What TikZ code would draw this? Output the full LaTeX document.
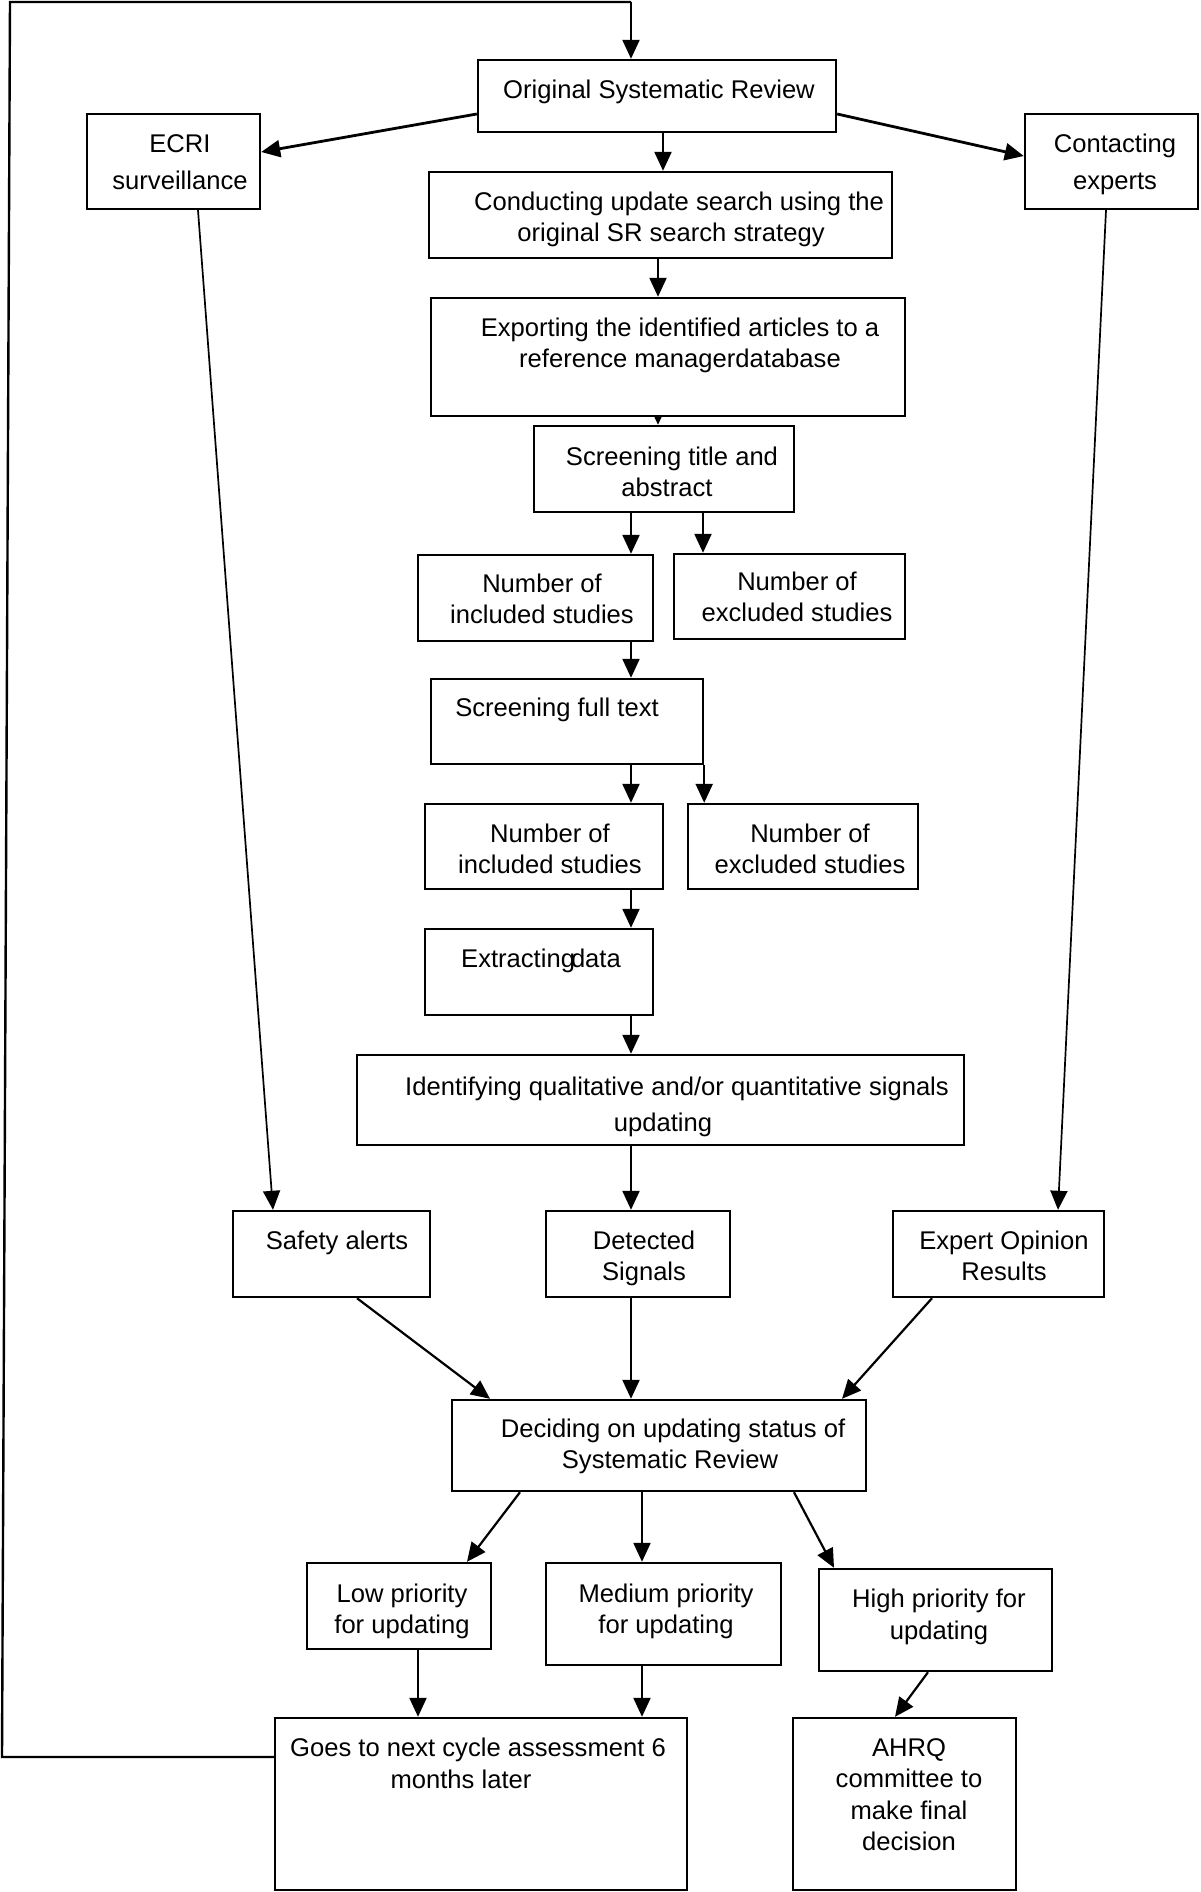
\documentclass[tikz,border=0pt]{standalone}
\usepackage{fontspec}
\setmainfont{Liberation Sans}
\usetikzlibrary{arrows.meta,fit}
\pgfdeclarelayer{bg}
\pgfsetlayers{bg,main}
\begin{document}
\begin{tikzpicture}[x=1pt,y=-1pt,
  box/.style={draw,line width=2.4pt,fill=white,inner sep=0pt,rectangle},
  lbl/.style={align=center,inner sep=0pt,font=\fontsize{25.6pt}{31.4pt}\selectfont},
  wide/.style={font=\fontsize{25.6pt}{37pt}\selectfont},
  arr/.style={line width=2.2pt,-{Triangle[length=19pt,width=17pt]}},
  thin/.style={line width=1.7pt,-{Triangle[length=19pt,width=17pt]}},
  loopline/.style={line width=2.4pt}]
\useasboundingbox (0,0) rectangle (1200,1892);

% boxes
\node[box,fit={(478,60)(836,132)}] (osr) {};
\node[box,fit={(87,114)(260,209)}] (ecri) {};
\node[box,fit={(1025,114)(1198,209)}] (cont) {};
\node[box,fit={(429,172)(892,258)}] (cond) {};
\node[box,fit={(431,298)(905,416)}] (expo) {};
\node[box,fit={(534,426)(794,512)}] (scta) {};
\node[box,fit={(418,555)(653,641)}] (inca) {};
\node[box,fit={(674,554)(905,639)}] (exca) {};
\node[box,fit={(431,679)(703,764)}] (scft) {};
\node[box,fit={(425,804)(663,889)}] (incb) {};
\node[box,fit={(688,804)(918,889)}] (excb) {};
\node[box,fit={(425,929)(653,1015)}] (extr) {};
\node[box,fit={(357,1055)(964,1145)}] (iden) {};
\node[box,fit={(233,1211)(430,1297)}] (safe) {};
\node[box,fit={(546,1211)(730,1297)}] (dete) {};
\node[box,fit={(893,1211)(1104,1297)}] (expt) {};
\node[box,fit={(452,1400)(866,1491)}] (deci) {};
\node[box,fit={(307,1563)(491,1649)}] (low) {};
\node[box,fit={(546,1563)(781,1665)}] (med) {};
\node[box,fit={(819,1569)(1052,1671)}] (high) {};
\node[box,fit={(275,1718)(687,1890)}] (goes) {};
\node[box,fit={(793,1718)(1016,1890)}] (ahrq) {};

% texts
\node[lbl] (osrt) at (659,92) {\strut Original Systematic Review};
\node[lbl,wide] (ecrit) at (180,164) {\strut ECRI\\\strut surveillance};
\node[lbl,wide] (contt) at (1115,164) {\strut Contacting\\\strut experts};
\node[lbl] (condt) at (679,220) {\strut Conducting update search using the\\\strut original SR search strategy\kern16pt};
\node[lbl] (expot) at (680,346) {\strut Exporting the identified articles to a\\\strut reference managerdatabase};
\node[lbl] (sctat) at (672,475) {\strut Screening title and\\\strut abstract\kern10pt};
\node[lbl] (incat) at (542,602) {\strut Number of\\\strut included studies};
\node[lbl] (excat) at (797,600) {\strut Number of\\\strut excluded studies};
\node[lbl] (scftt) at (557,710) {\strut Screening full text};
\node[lbl] (incbt) at (550,852) {\strut Number of\\\strut included studies};
\node[lbl] (excbt) at (810,852) {\strut Number of\\\strut excluded studies};
\node[lbl] (extrt) at (541,961) {\strut Extracting\kern-4pt data};
\node[lbl,font=\fontsize{25.6pt}{36pt}\selectfont] (ident) at (677,1106) {\strut Identifying qualitative and/or quantitative signals\\\strut updating\kern28pt};
\node[lbl] (safet) at (337,1243) {\strut Safety alerts};
\node[lbl] (detet) at (644,1259) {\strut Detected\\\strut Signals};
\node[lbl] (exptt) at (1004,1259) {\strut Expert Opinion\\\strut Results};
\node[lbl] (decit) at (673,1447) {\strut Deciding on updating status of\\\strut Systematic Review\kern6pt};
\node[lbl] (lowt) at (402,1612) {\strut Low priority\\\strut for updating};
\node[lbl] (medt) at (666,1612) {\strut Medium priority\\\strut for updating};
\node[lbl] (hight) at (939,1617) {\strut High priority for\\\strut updating};
\node[lbl] (goest) at (478,1766) {\strut Goes to next cycle assessment 6\\\strut months later\kern34pt};
\node[lbl] (ahrqt) at (909,1797) {\strut AHRQ\\\strut committee to\\\strut make final\\\strut decision};

% free corners of the loop line
\coordinate (lb) at (2,1757);
\coordinate (lt) at (10,2);
\coordinate (rt) at (631,2);

\begin{pgfonlayer}{bg}
\draw[arr,line width=2.8pt] (osr.west |- 0,114) -- (ecri.east |- 0,152);
\draw[arr,line width=2.8pt] (osr.east |- 0,114) -- (cont.west |- 0,156);
\draw[arr] (osr.south -| 663,0) -- (cond.north -| 663,0);
\draw[arr] (cond.south -| 658,0) -- (expo.north -| 658,0);
\draw[arr] (expo.south -| 658,0) -- (scta.north -| 658,0);
\draw[arr] (scta.south -| 631,0) -- (inca.north -| 631,0);
\draw[arr] (scta.south -| 703,0) -- (exca.north -| 703,0);
\draw[arr] (inca.south -| 631,0) -- (scft.north -| 631,0);
\draw[arr] (scft.south -| 631,0) -- (incb.north -| 631,0);
\draw[arr] (scft.south east) -- (excb.north -| scft.south east);
\draw[arr] (incb.south -| 631,0) -- (extr.north -| 631,0);
\draw[arr] (extr.south -| 631,0) -- (iden.north -| 631,0);
\draw[arr] (iden.south -| 631,0) -- (dete.north -| 631,0);
\draw[thin] (ecri.south -| 198,0) -- (safe.north -| 273,0);
\draw[thin] (cont.south -| 1106,0) -- (expt.north -| 1058,0);
\draw[arr] (safe.south -| 357,0) -- (deci.north -| 490,0);
\draw[arr] (dete.south -| 631,0) -- (deci.north -| 631,0);
\draw[arr] (expt.south -| 932,0) -- (deci.north -| 842,0);
\draw[arr] (deci.south -| 520,0) -- (low.north -| 467,0);
\draw[arr] (deci.south -| 642,0) -- (med.north -| 642,0);
\draw[arr] (deci.south -| 794,0) -- (high.north -| 834,0);
\draw[arr] (low.south -| 418,0) -- (goes.north -| 418,0);
\draw[arr] (med.south -| 642,0) -- (goes.north -| 642,0);
\draw[arr] (high.south -| 928,0) -- (ahrq.north -| 895,0);
\draw[loopline] (goes.west |- lb) -- (lb) -- (lt) -- (rt);
\draw[arr] (rt) -- (osr.north -| rt);
\end{pgfonlayer}
\end{tikzpicture}
\end{document}
